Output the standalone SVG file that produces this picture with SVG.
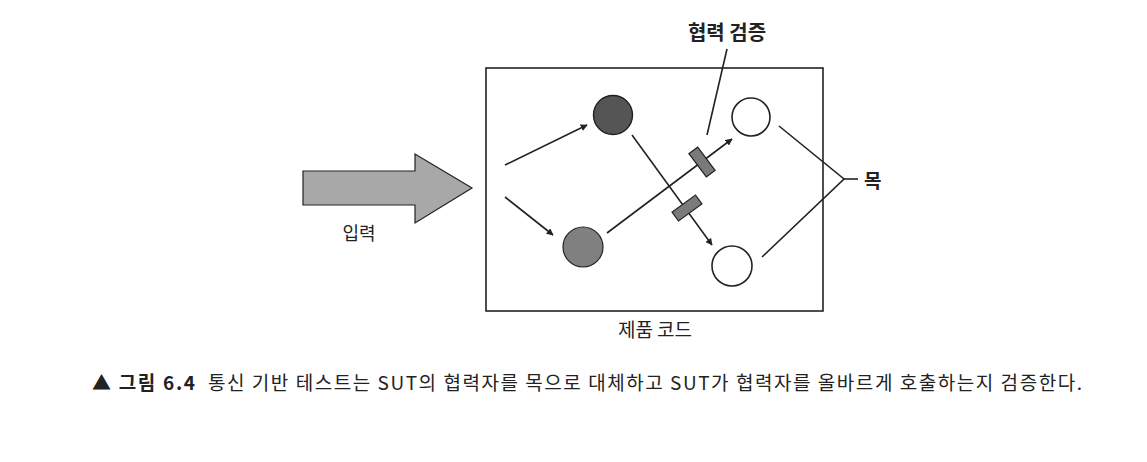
<svg xmlns="http://www.w3.org/2000/svg" width="1147" height="462" viewBox="0 0 1147 462">
<defs>
<style>
.t{font-family:"Noto Sans CJK KR","Liberation Sans",sans-serif;fill:#222;}
.ln{stroke:#222;stroke-width:1.6;fill:none;}
.bar{fill:#7a7a7a;stroke:#222;stroke-width:1.2;}
</style>
<marker id="ah" viewBox="0 0 10 10" refX="9" refY="5" markerWidth="7" markerHeight="7" orient="auto" markerUnits="userSpaceOnUse">
<path d="M0,0 L10,5 L0,10 z" fill="#222"/>
</marker>
</defs>
<rect width="1147" height="462" fill="#fff"/>
<g id="product-code">
<rect x="486" y="68" width="337" height="243" fill="none" stroke="#222" stroke-width="1.6"/>
<text class="t" x="655" y="337" font-size="19" text-anchor="middle">제품 코드</text>
</g>
<g id="input">
<polygon points="303,171 415,171 415,154 472,188 415,223 415,205 303,205" fill="#a8a8a8" stroke="#222" stroke-width="1.2"/>
<text class="t" x="359" y="240" font-size="18" text-anchor="middle">입력</text>
</g>
<g id="node-dark"><circle cx="613" cy="115" r="19.5" fill="#555" stroke="#222" stroke-width="1.4"/></g>
<g id="node-gray"><circle cx="583" cy="247" r="20" fill="#808080" stroke="#222" stroke-width="1.2"/></g>
<g id="mock-top"><circle cx="751" cy="117" r="19" fill="#fff" stroke="#222" stroke-width="1.6"/></g>
<g id="mock-bottom"><circle cx="732" cy="266" r="20" fill="#fff" stroke="#222" stroke-width="1.6"/></g>
<g id="connectors">
<line class="ln" x1="505" y1="165" x2="587" y2="125" marker-end="url(#ah)"/>
<line class="ln" x1="505" y1="197" x2="553" y2="235" marker-end="url(#ah)"/>
<line class="ln" x1="632" y1="135" x2="712" y2="245" marker-end="url(#ah)"/>
<line class="ln" x1="607" y1="233" x2="732" y2="139" marker-end="url(#ah)"/>
<rect class="bar" x="-5.5" y="-14.5" width="11" height="29" transform="translate(702,162) rotate(-37)"/>
<rect class="bar" x="-5.5" y="-14.5" width="11" height="29" transform="translate(687,208) rotate(54)"/>
<line class="ln" x1="727" y1="49" x2="707" y2="135"/>
<polyline class="ln" points="779,126 844,179 762,257"/>
<line class="ln" x1="844" y1="179" x2="858" y2="179"/>
</g>
<g id="labels">
<text class="t" x="727" y="40" font-size="20" font-weight="bold" text-anchor="middle">협력 검증</text>
<text class="t" x="864" y="188" font-size="19" font-weight="bold">목</text>
</g>
<g id="caption">
<text class="t" x="92" y="390" font-size="19" font-weight="bold" textLength="103" lengthAdjust="spacing">▲ 그림 6.4</text>
<text class="t" x="208" y="390" font-size="19" textLength="874" lengthAdjust="spacing">통신 기반 테스트는 SUT의 협력자를 목으로 대체하고 SUT가 협력자를 올바르게 호출하는지 검증한다.</text>
</g>
</svg>
